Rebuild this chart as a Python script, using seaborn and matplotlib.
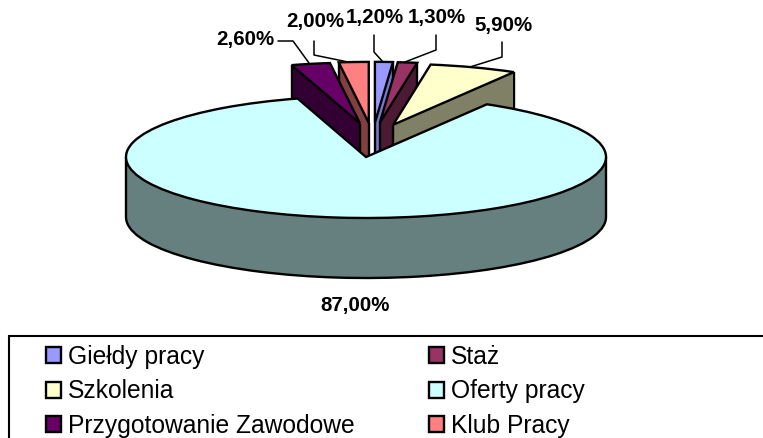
import matplotlib
matplotlib.use("Agg")
import matplotlib.pyplot as plt
from matplotlib.patches import Rectangle
import numpy as np
import seaborn as sns

# ---- data
categories = ["Giełdy pracy", "Staż", "Szkolenia", "Oferty pracy",
              "Przygotowanie Zawodowe", "Klub Pracy"]
values = [1.2, 1.3, 5.9, 87.0, 2.6, 2.0]
top_hex = ["#9999FF", "#993366", "#FFFFCC", "#CCFFFF", "#660066", "#FF8080"]
side_hex = ["#7777CC", "#4D1A33", "#808066", "#668080", "#330033", "#804040"]
explode = [0.56, 0.56, 0.56, 0.0, 0.56, 0.56]
legend_order = [0, 2, 4, 1, 3, 5]

# ---- layout (pixels)
W, H = 763, 438
CX, CY, RX, RY, DEPTH = 366, 157, 240, 61, 60
K, SHIFT = 0.454, 6.6
draw_rank = [3, 4, 5, 6, 2, 1]
label_center = [(375, 18), (437, 18), (503, 26), (355, 305), (245, 39), (315, 21)]
leaders = [[(374, 35), (374, 52), (383, 62)],
           [(436, 35), (436, 50), (405, 62)],
           [(502, 42), (502, 57), (470, 67)],
           None,
           [(278, 41), (293, 41), (309, 63)],
           [(314, 41), (314, 55), (348, 62)]]

sns.set_theme(style="white", font="Liberation Sans")
plt.rcParams["font.family"] = ["Liberation Sans", "DejaVu Sans"]
top_colors = sns.color_palette(top_hex)
side_colors = sns.color_palette(side_hex)

fig = plt.figure(figsize=(W / 100, H / 100), dpi=100)
ax = fig.add_axes([0, 0, 1, 1])


def P(x, y):
    return (x - CX) / RX, (CY - y) / RY


LW = 1.7


def place(wedges, z_offset):
    for i, w in enumerate(wedges):
        cx, cy = w.center
        if explode[i] > 0:
            w.set_center((cx * K + SHIFT / RX, cy))
        w.set_zorder(draw_rank[i] * 1000 + z_offset)


common = dict(explode=explode, startangle=90, counterclock=False, radius=1)

# side body, from the lowest layer up
for d in range(DEPTH, 0, -1):
    wedges, _ = ax.pie(values, colors=side_colors, center=(0, -d / RY),
                       wedgeprops=dict(linewidth=0), **common)
    place(wedges, DEPTH - d + 1)

# outline of the lower face, only its front half
wedges, _ = ax.pie(values, colors=side_colors, center=(0, -DEPTH / RY),
                   wedgeprops=dict(fill=False, edgecolor="black", linewidth=LW), **common)
place(wedges, DEPTH + 1)
bx0, by0 = P(-50, H + 50)
bx1, by1 = P(W + 50, CY + DEPTH)
for w in wedges:
    w.set_clip_on(True)
    w.set_clip_path(Rectangle((bx0, by0), bx1 - bx0, by1 - by0, transform=ax.transData))

# top faces
tops, _ = ax.pie(values, colors=top_colors, center=(0, 0),
                 wedgeprops=dict(edgecolor="black", linewidth=LW), **common)
place(tops, DEPTH + 3)

# vertical silhouette edges of each extruded slice
for i, w in enumerate(tops):
    cx, cy = w.center
    if explode[i] == 0:
        xs, ys = [cx - 1, cx + 1], [cy, cy]
    else:
        cand = [(cx + np.cos(np.radians(t)), cy + np.sin(np.radians(t)))
                for t in (w.theta1, w.theta2)]
        outer = max(cand, key=lambda c: abs(c[0] - cx))
        xs, ys = [cx, outer[0]], [cy, outer[1]]
    for x, y in zip(xs, ys):
        ax.plot([x, x], [y, y - DEPTH / RY], color="black", lw=LW,
                zorder=draw_rank[i] * 1000 + DEPTH + 2, solid_capstyle="butt")

# value labels and leader lines
for i, v in enumerate(values):
    x, y = P(*label_center[i])
    ax.text(x, y, f"{v:.2f}%".replace(".", ","), ha="center", va="center",
            fontsize=14.8, fontweight="bold", color="black", zorder=9000)
    if leaders[i]:
        pts = [P(*p) for p in leaders[i]]
        ax.plot([p[0] for p in pts], [p[1] for p in pts], color="black", lw=1.1, zorder=9000)

# legend frame runs off the canvas on the right and at the bottom
x0, y0 = P(9, 336)
x1, y1 = P(900, 520)
ax.add_patch(Rectangle((x0, y1), x1 - x0, y0 - y1, fill=False, edgecolor="black",
                       linewidth=1.5, zorder=9000, clip_on=False))

ax.set_aspect("auto")
ax.set_xlim(P(0, 0)[0], P(W, 0)[0])
ax.set_ylim(P(0, H)[1], P(0, 0)[1])
ax.axis("off")

leg = ax.legend([tops[i] for i in legend_order], [categories[i] for i in legend_order],
                ncol=2, loc="upper left", bbox_to_anchor=(46 / W, 1 - 345 / H),
                bbox_transform=fig.transFigure, frameon=False, fontsize=17.7,
                borderpad=0, borderaxespad=0, handlelength=0.61, handleheight=0.61,
                handletextpad=0.3, labelspacing=0.42, columnspacing=3.0, labelcolor="black")
leg.set_zorder(9000)

fig.savefig("out.png", dpi=100)
